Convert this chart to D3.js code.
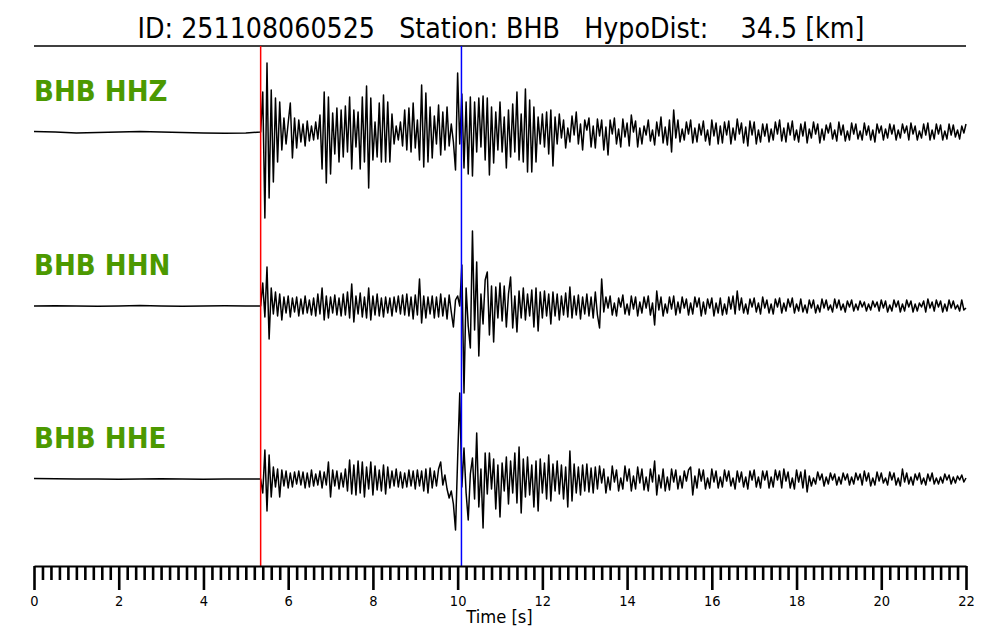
<!DOCTYPE html>
<html>
<head>
<meta charset="utf-8">
<script src="https://cdn.jsdelivr.net/npm/d3@7"></script>
<style>
  html, body { margin: 0; padding: 0; background: #fff; }
  svg { display: block; }
  text { font-family: "DejaVu Sans", sans-serif; }
</style>
</head>
<body>
<svg id="chart" width="1000" height="640"></svg>
<script>
// ---------------- DATA ----------------
const titleText = "ID: 251108060525   Station: BHB   HypoDist:    34.5 [km]";
const traceNames = ["BHB HHZ", "BHB HHN", "BHB HHE"];
const xLabel = "Time [s]";
const timeDomain = [0, 22];
const majorTicks = [0, 2, 4, 6, 8, 10, 12, 14, 16, 18, 20, 22];
const minorStep = 0.2;
const pPick = 5.35;
const sPick = 10.09;

// pre-event noise: samples every 0.5 s from 0 s
const preStep = 0.5;
const zPre = [0.5, 0, -1, -0.5, 0, 0.5, 0, -0.5, -1, -1.2, -1];
const nPre = [0, 0.3, 0, -0.3, 0, 0.5, 0, -0.3, 0, 0.2, 0];
const ePre = [0.5, 0.3, 0, 0, -0.3, 0, 0.3, 0, -0.3, 0, 0];

// event waveforms: samples every 0.05 s from 5.35 s to 22 s (amplitude units)
const waveStart = 5.35;
const waveStep = 0.05;
const zWave = [
  0, 40, -86, 69, -66, 42, -50, 34, -30, 30, -18, 14, -12, 9, 29, -26, 14, -16, 12, -10,
  8, -14, 11, -9, 6, -8, 10, -7, 17, -37, 40, -51, 35, -42, 19, -22, 24, -30, 22, -25,
  26, -20, 35, -37, 22, -15, 20, -37, 35, -30, 46, -56, 34, -28, 10, -25, 29, -30, 37, -30,
  30, -30, 18, -12, 6, -8, 10, -14, 22, -18, 24, -20, 29, -16, 12, -28, 47, -35, 39, -30,
  25, -26, 16, -12, 27, -23, 20, -18, 25, -14, 8, -10, -38, 59, -12, 38, -36, 30, -42, 35,
  -44, 30, -20, 34, -15, 36, -28, 34, -43, 25, -31, 20, -18, 30, -20, 15, -36, 22, -25, 28,
  -20, 40, -28, 18, -30, 43, -40, 32, -40, 25, -30, 15, -12, 18, -15, 20, -22, 22, -34, 15,
  -12, 18, -6, 12, -16, 4, -10, 16, -3, 20, -12, 8, -18, 12, 2, 14, -15, 6, -16, 13,
  -4, 12, -18, 5, -23, 12, -2, 14, -12, 3, -15, 13, -5, 9, -14, 17, 0, 11, -15, 4,
  -12, 6, -3, 12, -9, 2, -13, 10, -4, 15, -11, 5, -13, 12, -20, 22, -6, 12, -10, 3,
  -8, 10, -2, 12, -11, 4, -10, 8, -3, 11, -9, 2, -13, 12, -4, 9, -12, 6, -11, 10,
  -3, 11, -12, 4, -8, 13, -2, 9, -11, 5, -14, 11, -3, 10, -12, 2, -10, 8, -4, 8,
  -10, 3, -8, 10, -2, 12, -9, 4, -10, 9, -3, 11, -8, 2, -10, 8, -4, 10, -11, 3,
  -6, 10, -2, 8, -11, 3, -8, 7, -1, 9, -7, 2, -9, 10, -3, 7, -9, 1, -8, 9,
  -2, 8, -7, 1, -8, 9, -3, 6, -8, 2, -10, 8, -1, 6, -8, 3, -6, 8, -2, 7,
  -8, 2, -6, 8, -1, 6, -8, 9, -2, 6, -8, 1, -6, 8, -3, 9, -8, 2, -7, 8,
  -2, 7, -8, 1, -7, 8, -3, 7, -5, 2, -7, 6, -1, 8
];
const nWave = [
  0, 23, -11, 39, -33, 18, -8, 14, -10, 12, -14, 9, -7, 10, -11, 8, -6, 9, -10, 7,
  -8, 10, -7, 6, -9, 8, -10, 12, -8, 18, -14, 10, -12, 9, -7, 11, -9, 8, -10, 12,
  -9, 14, -12, 22, -16, 10, -8, 13, -11, 9, -12, 18, -14, 10, -9, 12, -10, 8, -11, 9,
  -7, 8, -10, 9, -6, 10, -8, 11, -9, 12, -10, 9, -13, 11, -9, 27, -17, 10, -12, 9,
  -8, 10, -12, 9, -11, 12, -10, 8, -13, 11, -6, -21, 6, 10, 0, 41, -87, 18, -20, -42,
  75, -24, 44, -50, 12, -18, 26, 34, -29, 20, -36, 19, -12, 23, -15, 20, -21, 12, 29, -22,
  10, -26, 15, -12, 18, -14, 12, -10, 16, -21, 18, -25, 14, -12, 15, -10, 12, -18, 14, -10,
  12, -14, 10, -9, 13, -11, 19, -12, 10, -9, 11, -13, 9, -8, 12, -10, 9, -12, 14, -9,
  -22, 27, -6, 9, -2, 10, -9, 3, -10, 8, -1, 11, -8, 2, -9, 10, -3, 9, -10, 4,
  -7, 9, -2, 10, -9, 3, -19, 15, -4, 9, -10, 2, -7, 9, -3, 10, -9, 4, -7, 9,
  -2, 7, -9, 3, -8, 9, -1, 8, -10, 4, -8, 7, -2, 8, -10, 3, -7, 8, -9, 2,
  -8, 9, -3, 10, -8, 15, -4, 8, -7, 2, -8, 7, -1, 8, -6, 3, -8, 9, -2, 6,
  -7, 2, -8, 7, -1, 8, -7, 3, -5, 7, -1, 8, -7, 2, -5, 7, -6, 1, -7, 6,
  -2, 6, -7, 1, -6, 7, -2, 6, -4, 1, -6, 7, -2, 6, -4, 2, -6, 5, -1, 6,
  -5, 2, -4, 5, -1, 4, -5, 2, -4, 5, -1, 4, -5, 6, -2, 5, -6, 1, -5, 6,
  -1, 5, -6, 2, -5, 6, -1, 5, -6, 2, -5, 3, -1, 5, -6, 7, -2, 4, -5, 6,
  -1, 5, -6, 2, -5, 6, -2, 5, -3, 1, -5, 6, -4, -2
];
const eWave = [
  0, -14, 29, -32, 24, -18, 12, -8, 10, -18, 9, -7, 8, -9, 6, -8, 7, -5, 8, -6,
  7, -9, 6, -8, 9, -7, 5, -6, 8, -9, 7, -6, 17, -18, 9, -7, 8, -10, 6, -8,
  10, -12, 19, -15, 14, -16, 18, -14, 17, -18, 12, -10, 17, -16, 13, -11, 9, -12, 14, -15,
  12, -9, 8, -7, 10, -8, 7, -9, 6, -8, 9, -7, 8, -10, 9, -7, 8, -12, 10, -14,
  11, -9, 8, -7, 10, 17, -6, 4, -10, -19, -12, -25, -51, 20, 86, -8, 31, -14, -41, 5,
  21, -20, 46, -28, 10, -49, 26, -15, 26, -10, 20, -30, 14, -38, 16, -12, 22, -25, 18, -14,
  26, -24, 32, -34, 20, -18, 22, -16, 14, -28, 18, -32, 20, -14, 16, -20, 24, -22, 15, -12,
  18, -15, 14, -20, 12, -28, 28, -22, 15, -14, 12, -16, 14, -12, 15, -13, 11, -14, 12, -10,
  13, -4, 10, -14, 2, -11, 13, -3, 9, -12, 1, -10, 13, -2, 10, -12, 3, -10, 12, -4,
  10, -11, 2, -12, 10, -3, 18, -16, 4, -9, 10, -12, 2, -11, 10, -3, 9, -10, 3, -9,
  8, -2, 9, 12, -16, 3, -9, 10, -2, 9, -10, 1, -9, 10, -3, 8, -9, 2, -8, 9,
  -2, 8, -7, 1, -10, 8, -3, 7, -8, 2, -10, 8, -1, 9, -8, 2, -9, 8, -1, 8,
  -9, 2, -8, 9, -1, 8, -9, 10, -2, 7, -9, 1, -10, 9, -3, 7, -9, 9, -13, 3,
  -7, 1, -5, 7, -1, 5, -7, 2, -5, 6, -1, 5, -6, 2, -5, 6, -1, 5, -6, 2,
  -5, 6, -1, 5, -6, 8, -2, 6, -7, 1, -6, 7, -2, 6, -4, 1, -6, 7, -1, 6,
  -6, 1, -7, 10, -3, 6, -5, 2, -6, 5, -1, 6, -5, 1, -6, 5, -2, 6, -5, 1,
  -5, 2, -4, 5, -1, 4, -5, 2, -4, 3, -1, 4, -3, 1
];

// ---------------- DRAW ----------------
const W = 1000, H = 640;
const margin = { left: 34, right: 34 };
const topLineY = 46, axisY = 566;
const traceBase = [132, 306, 479];
const ampHalf = 100;
const squeeze = 0.92;

const svg = d3.select("#chart");
const x = d3.scaleLinear().domain(timeDomain).range([margin.left, W - margin.right]);

function buildSeries(pre, wave) {
  const pts = pre.map((v, i) => ({ t: i * preStep, v }));
  wave.forEach((v, i) => pts.push({ t: waveStart + i * waveStep, v }));
  return pts.filter(d => d.t <= timeDomain[1] + 1e-9);
}
const series = [buildSeries(zPre, zWave), buildSeries(nPre, nWave), buildSeries(ePre, eWave)];

// title
svg.append("text")
  .attr("class", "sq")
  .attr("x", 501).attr("y", 37.5)
  .attr("text-anchor", "middle")
  .style("white-space", "pre")
  .attr("font-size", 27.6)
  .attr("fill", "#000")
  .text(titleText);

svg.append("line")
  .attr("x1", x(timeDomain[0])).attr("x2", x(timeDomain[1]))
  .attr("y1", topLineY).attr("y2", topLineY)
  .attr("stroke", "#000").attr("stroke-width", 1.5);

// traces
series.forEach((data, k) => {
  const y = d3.scaleLinear().domain([-ampHalf, ampHalf])
    .range([traceBase[k] + ampHalf, traceBase[k] - ampHalf]);
  const line = d3.line().x(d => x(d.t)).y(d => y(d.v));
  svg.append("path")
    .datum(data)
    .attr("d", line)
    .attr("fill", "none")
    .attr("stroke", "#000")
    .attr("stroke-width", 1.5)
    .attr("stroke-linejoin", "round");

  svg.append("text")
    .attr("class", "sq")
    .attr("x", margin.left).attr("y", traceBase[k] - 31.3)
    .attr("font-size", 28.4)
    .attr("font-weight", "bold")
    .attr("fill", "#4c9900")
    .text(traceNames[k]);
});

// picks
[[pPick, "#ff0000"], [sPick, "#0000ff"]].forEach(([t, c]) => {
  svg.append("line")
    .attr("x1", x(t)).attr("x2", x(t))
    .attr("y1", topLineY).attr("y2", axisY)
    .attr("stroke", c).attr("stroke-width", 1.5);
});

// axis
const minorTicks = d3.range(0, timeDomain[1] + 1e-6, minorStep)
  .map(v => Math.round(v * 10) / 10)
  .filter(v => Math.abs(v / 2 - Math.round(v / 2)) > 1e-6);

const gMinor = svg.append("g").attr("transform", `translate(0,${axisY})`)
  .call(d3.axisBottom(x).tickValues(minorTicks).tickSize(14).tickSizeOuter(0).tickFormat(""));
gMinor.select(".domain").remove();
gMinor.selectAll(".tick line").attr("stroke", "#000").attr("stroke-width", 2.6);

const gMajor = svg.append("g").attr("transform", `translate(0,${axisY})`)
  .call(d3.axisBottom(x).tickValues(majorTicks).tickSize(24).tickSizeOuter(0).tickPadding(6).tickFormat(d3.format("d")));
gMajor.select(".domain").attr("stroke", "#000").attr("stroke-width", 2);
gMajor.selectAll(".tick line").attr("stroke", "#000").attr("stroke-width", 2.6);
gMajor.selectAll(".tick text")
  .attr("class", "sq")
  .attr("font-family", "DejaVu Sans")
  .attr("font-size", 14.2)
  .attr("fill", "#000");

svg.append("text")
  .attr("class", "sq")
  .attr("x", 499.5).attr("y", 623.3)
  .attr("text-anchor", "middle")
  .attr("font-size", 17.8)
  .attr("fill", "#000")
  .text(xLabel);

// horizontal squeeze of text to match the reference proportions
svg.selectAll("text.sq").each(function () {
  const w = this.getComputedTextLength();
  d3.select(this).attr("textLength", w * squeeze).attr("lengthAdjust", "spacingAndGlyphs");
});
</script>
</body>
</html>
